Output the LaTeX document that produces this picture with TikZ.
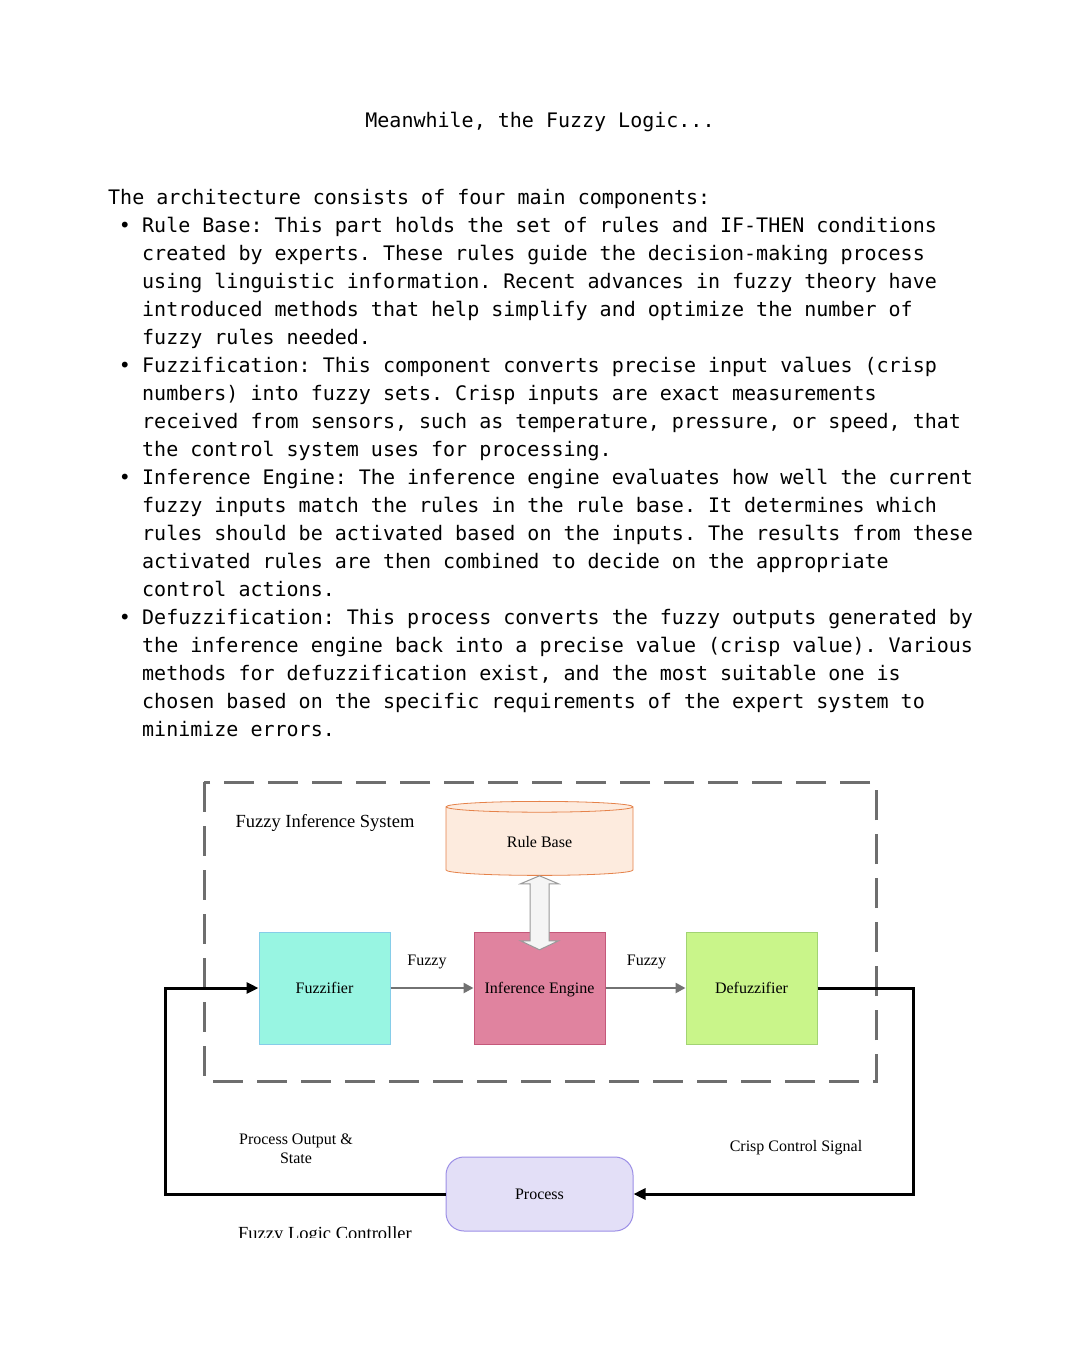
\documentclass[tikz,border=0pt]{standalone}
\usepackage{fontspec}
\setmonofont{DejaVu Sans Mono}
\newfontfamily\diagserif{Liberation Serif}
\usetikzlibrary{shapes.geometric, arrows.meta, positioning, calc}

\newcommand\paratext{\fontsize{20}{28}\selectfont\ttfamily}
\newcommand\lbltext{\fontsize{16}{19}\selectfont\diagserif}
\newcommand\headtext{\fontsize{18.5}{22}\selectfont\diagserif}

\definecolor{fuzzfill}{HTML}{98F5E2}
\definecolor{fuzzdraw}{HTML}{86CDE8}
\definecolor{inffill}{HTML}{E0839F}
\definecolor{infdraw}{HTML}{C4587A}
\definecolor{defuzzfill}{HTML}{C9F58A}
\definecolor{defuzzdraw}{HTML}{A2D373}
\definecolor{procfill}{HTML}{E3DFF7}
\definecolor{procdraw}{HTML}{9C8FE6}
\definecolor{rbfill}{HTML}{FDEBDE}
\definecolor{rbdraw}{HTML}{E5824A}
\definecolor{framegray}{HTML}{6E6E6E}
\definecolor{flowgray}{HTML}{727272}

\begin{document}
\begin{tikzpicture}[x=1pt, y=-1pt]
	\tikzstyle{para}=[anchor=base west, align=left, inner sep=0pt, font=\paratext];
	\tikzstyle{dot}=[anchor=base, inner sep=0pt, font=\paratext];
	\tikzstyle{block}=[rectangle, draw, line width=1pt, minimum width=131pt, minimum height=112pt, text depth=0pt, font=\lbltext];
	\tikzstyle{flow}=[draw=flowgray, line width=2.5pt, -{Triangle[length=10pt, width=10pt]}, color=flowgray];
	\tikzstyle{fb}=[line width=3pt, -{Triangle[length=12pt, width=11pt]}];
	\tikzstyle{lbl}=[font=\lbltext, inner sep=0pt];

	\useasboundingbox[fill=white] (0,0) rectangle (1080,1350);

	\node[anchor=base, inner sep=0pt, font=\paratext] (title) at (540, 127) {Meanwhile, the Fuzzy Logic...};

	% multi-line nodes sit on the baseline of their last line
	\node[para] (intro) at (108, 204) {The architecture consists of four main components:};
	\node[dot] (b1) at (125, 232) {•};
	\node[para] (rbtext) at (142, 344) {Rule Base: This part holds the set of rules and IF-THEN conditions\\created by experts. These rules guide the decision-making process\\using linguistic information. Recent advances in fuzzy theory have\\introduced methods that help simplify and optimize the number of\\fuzzy rules needed.};
	\node[dot] (b2) at (125, 372) {•};
	\node[para] (fztext) at (142, 456) {Fuzzification: This component converts precise input values (crisp\\numbers) into fuzzy sets. Crisp inputs are exact measurements\\received from sensors, such as temperature, pressure, or speed, that\\the control system uses for processing.};
	\node[dot] (b3) at (125, 484) {•};
	\node[para] (ietext) at (142, 596) {Inference Engine: The inference engine evaluates how well the current\\fuzzy inputs match the rules in the rule base. It determines which\\rules should be activated based on the inputs. The results from these\\activated rules are then combined to decide on the appropriate\\control actions.};
	\node[dot] (b4) at (125, 624) {•};
	\node[para] (dftext) at (142, 736) {Defuzzification: This process converts the fuzzy outputs generated by\\the inference engine back into a precise value (crisp value). Various\\methods for defuzzification exist, and the most suitable one is\\chosen based on the specific requirements of the expert system to\\minimize errors.};

	\draw[framegray, line width=3pt, dash pattern=on 30pt off 14pt] (204, 782) rectangle (876, 1081);
	\node[anchor=base, font=\headtext, inner sep=0pt] (fis) at (325, 827) {Fuzzy Inference System};

	\node[block, fill=fuzzfill, draw=fuzzdraw] (fuzz) at (324.5, 988) {Fuzzifier};
	\node[block, fill=inffill, draw=infdraw, right=83pt of fuzz] (inf) {Inference Engine};
	\node[block, fill=defuzzfill, draw=defuzzdraw, right=80pt of inf] (defuzz) {Defuzzifier};

	\node[cylinder, shape border rotate=90, aspect=0.15, draw=rbdraw, fill=rbfill, line width=0.8pt, minimum width=187pt, minimum height=74pt, font=\lbltext] (rb) at (539.5, 842) {Rule Base};

	\node[rectangle, rounded corners=18pt, draw=procdraw, fill=procfill, line width=1pt, minimum width=187pt, minimum height=74pt, font=\lbltext, below=112pt of inf] (proc) {Process};

	\draw[draw=gray!80, fill=gray!8, line width=1pt] (rb.south) -- ++(19,8) -- ++(-9.5,0) -- ++(0,57) -- ++(9.5,0) -- ++(-19,9) -- ++(-19,-9) -- ++(9.5,0) -- ++(0,-57) -- ++(-9.5,0) -- cycle;

	\draw[flow] (fuzz) -- node[lbl, midway, xshift=-5pt, yshift=26pt, text=black] {Fuzzy} (inf);
	\draw[flow] (inf) -- node[lbl, midway, xshift=1pt, yshift=26pt, text=black] {Fuzzy} (defuzz);

	\draw[fb] (defuzz.east) -- ++(96,0) |- (proc.east);
	\draw[fb] (proc.west) -- ++(-280,0) |- (fuzz.west);

	\node[lbl, align=center] (pout) at (296, 1149) {Process Output \&\\State};
	\node[lbl] (ccs) at (796, 1148) {Crisp Control Signal};

	\begin{scope}
		\clip (0,0) rectangle (1080,1237);
		\node[anchor=base, font=\headtext, inner sep=0pt] (flc) at (325, 1239) {Fuzzy Logic Controller};
	\end{scope}
\end{tikzpicture}
\end{document}
